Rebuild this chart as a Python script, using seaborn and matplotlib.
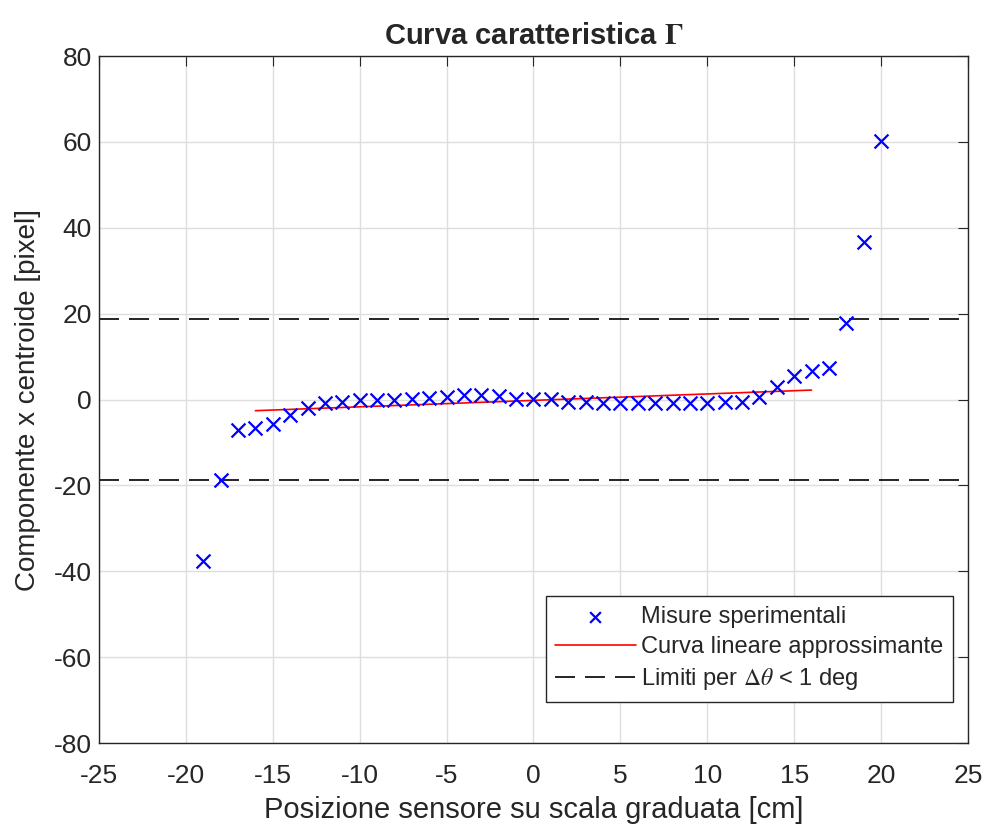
import numpy as np
import pandas as pd
import matplotlib
matplotlib.use("Agg")
import matplotlib.pyplot as plt
import seaborn as sns

# Dati
posizioni = list(range(-19, 21))
centroide_x = [-37.6, -18.8, -7.0, -6.6, -5.7, -3.5, -2.0, -0.8, -0.5, -0.1,
               0.0, 0.0, 0.2, 0.3, 0.6, 1.1, 1.1, 0.9, 0.1, 0.1,
               0.1, -0.5, -0.5, -0.9, -0.9, -0.9, -0.8, -0.8, -0.8, -0.8,
               -0.6, -0.6, 0.6, 3.0, 5.4, 6.7, 7.3, 17.8, 36.8, 60.3]
fit_x = [-16, 16]
fit_y = [-2.6, 2.2]
limite = 18.7

misure = pd.DataFrame({"pos": posizioni, "cx": centroide_x})
fit = pd.DataFrame({"pos": fit_x, "cx": fit_y})

sns.set_style("whitegrid")
plt.rcParams['font.family'] = ['Liberation Sans', 'DejaVu Sans']
plt.rcParams['mathtext.fontset'] = 'stix'
plt.rcParams['axes.unicode_minus'] = False

fig = plt.figure(figsize=(9.84, 8.24), dpi=100)
ax = fig.add_axes([0.1006, 0.0983, 0.8831, 0.8337])

sns.scatterplot(data=misure, x="pos", y="cx", ax=ax, marker="x", color="#0000ff",
                s=100, linewidth=1.6, label="Misure sperimentali", zorder=3)
sns.lineplot(data=fit, x="pos", y="cx", ax=ax, color="#ff0000", linewidth=1.2,
             label="Curva lineare approssimante", zorder=2)
ax.axhline(limite, color="black", linestyle=(0, (12, 6)), linewidth=1.2,
           label=r"Limiti per $\Delta\theta$ < 1 deg")
ax.axhline(-limite, color="black", linestyle=(0, (12, 6)), linewidth=1.2)

ax.set_xlim(-25, 25)
ax.set_ylim(-80, 80)
ax.set_xticks(np.arange(-25, 26, 5))
ax.set_yticks(np.arange(-80, 81, 20))
ax.grid(True, color="#dedede", linewidth=1)
ax.tick_params(direction="in", labelsize=19, top=True, right=True, length=7,
               color="#262626")
ax.tick_params(axis="x", pad=15)
ax.tick_params(axis="y", pad=5)
for s in ax.spines.values():
    s.set_color("#262626")
    s.set_linewidth(1)

ax.set_xlabel("Posizione sensore su scala graduata [cm]", fontsize=21, labelpad=6)
ax.set_ylabel("Componente x centroide [pixel]", fontsize=20, labelpad=9)
ax.set_title(r"Curva caratteristica $\mathbf{\Gamma}$", fontsize=21, fontweight="bold", pad=9)

leg = ax.legend(loc="lower right", bbox_to_anchor=(0.983, 0.06), fontsize=17,
                frameon=True, fancybox=False, edgecolor="#262626", framealpha=1,
                handlelength=3.4, handletextpad=0.25, borderaxespad=0,
                labelspacing=0.35, borderpad=0.4)
leg.get_frame().set_linewidth(1)
leg.legend_handles[0].set_sizes([60])

fig.savefig("out.png", dpi=100)
